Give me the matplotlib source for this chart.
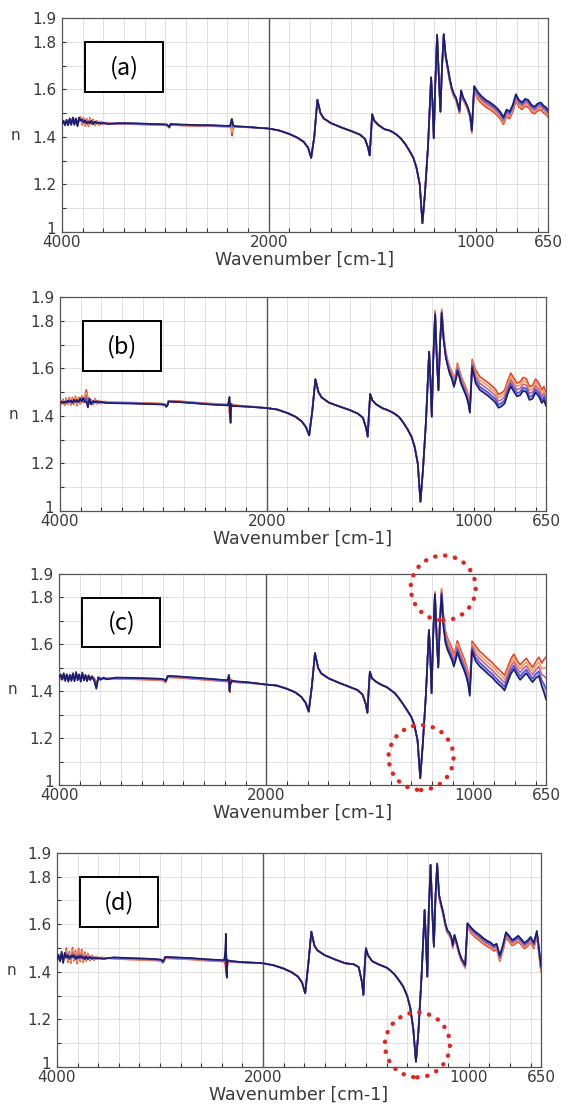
import numpy as np
import matplotlib
matplotlib.use("Agg")
import matplotlib.pyplot as plt
from matplotlib.patches import Rectangle, Circle
from matplotlib.transforms import ScaledTranslation
from matplotlib.ticker import FixedLocator, FixedFormatter

# ---------------------------------------------------------------------------
# Wavenumber grid [cm-1]: noisy OH region, mid-IR plateau, fingerprint region
# ---------------------------------------------------------------------------
wn_hi = [4000, 3985, 3970, 3955, 3940, 3925, 3910, 3895, 3880, 3865, 3850, 3835,
         3820, 3805, 3790, 3775, 3760, 3745, 3730, 3715, 3700, 3680, 3660, 3640,
         3620, 3600, 3570, 3540]
wn_mid = [3450, 3300, 3150, 3020, 2985, 2972, 2962, 2950, 2850, 2700, 2550, 2420,
          2375, 2365, 2360, 2355, 2350, 2345, 2335, 2300, 2200, 2100, 2000]
wn_lo = [1950, 1900, 1860, 1830, 1810, 1795, 1780, 1765, 1750, 1735, 1700, 1650,
         1600, 1560, 1535, 1520, 1512, 1506, 1500, 1490, 1470, 1440, 1420, 1400,
         1380, 1360, 1340, 1320, 1300, 1285, 1270, 1257, 1245, 1230, 1215, 1208,
         1202, 1195, 1186, 1178, 1170, 1162, 1154, 1145, 1135, 1125, 1115, 1105,
         1095, 1085, 1078, 1070, 1060, 1048, 1036, 1026, 1018, 1007, 990, 970,
         950, 930, 910, 895, 880, 865, 850, 835, 820, 805, 790, 775, 760, 745,
         730, 715, 700, 685, 670, 660, 650]

# ---------------------------------------------------------------------------
# Refractive index n (centre of each bundle of spectra) and the signed
# spread of the bundle around it, for panels (a)-(d)
# ---------------------------------------------------------------------------
n_hi_a = [1.458, 1.462, 1.456, 1.466, 1.458, 1.470, 1.460, 1.474, 1.462, 1.468,
          1.456, 1.472, 1.476, 1.462, 1.470, 1.458, 1.466, 1.455, 1.468, 1.460,
          1.463, 1.457, 1.462, 1.455, 1.460, 1.456, 1.458, 1.456]
n_mid_a = [1.456, 1.455, 1.453, 1.451, 1.450, 1.444, 1.440, 1.452, 1.450, 1.448,
           1.447, 1.445, 1.444, 1.450, 1.450, 1.440, 1.445, 1.442, 1.444, 1.443,
           1.441, 1.438, 1.435]
n_lo_a = [1.427, 1.412, 1.396, 1.378, 1.355, 1.312, 1.400, 1.556, 1.500, 1.478,
          1.458, 1.440, 1.424, 1.410, 1.392, 1.355, 1.322, 1.410, 1.495, 1.468,
          1.450, 1.432, 1.428, 1.420, 1.408, 1.392, 1.370, 1.342, 1.310, 1.268,
          1.200, 1.037, 1.160, 1.360, 1.650, 1.540, 1.394, 1.620, 1.829, 1.660,
          1.506, 1.700, 1.829, 1.740, 1.690, 1.640, 1.600, 1.575, 1.560, 1.530,
          1.505, 1.590, 1.560, 1.540, 1.515, 1.485, 1.422, 1.604, 1.575, 1.555,
          1.540, 1.530, 1.517, 1.505, 1.490, 1.468, 1.500, 1.492, 1.520, 1.565,
          1.540, 1.530, 1.545, 1.540, 1.520, 1.512, 1.525, 1.530, 1.515, 1.510,
          1.498]
sp_hi_a = [0.004, -0.006, 0.008, -0.006, 0.010, -0.008, 0.010, -0.008, 0.012,
           -0.010, 0.012, -0.010, 0.008, -0.012, 0.010, -0.012, 0.010, -0.010,
           0.012, -0.008, 0.010, -0.008, 0.006, -0.006, 0.005, -0.004, 0.003, 0.002]
sp_mid_a = [-0.002] * 13 + [-0.012, -0.025, -0.035, -0.018, -0.008, -0.002,
                            -0.001, -0.001, 0.0, 0.0]
sp_lo_a = [0.0] * 42 + [-0.004] + [-0.006] * 14 + [-0.010] + [-0.015] * 23

n_hi_b = [1.458, 1.455, 1.462, 1.452, 1.465, 1.456, 1.468, 1.455, 1.466, 1.458,
          1.470, 1.455, 1.468, 1.462, 1.472, 1.466, 1.470, 1.485, 1.455, 1.464,
          1.458, 1.455, 1.464, 1.456, 1.460, 1.456, 1.458, 1.456]
n_mid_b = [1.455, 1.454, 1.452, 1.450, 1.448, 1.440, 1.445, 1.462, 1.460, 1.455,
           1.450, 1.447, 1.446, 1.455, 1.445, 1.425, 1.410, 1.440, 1.445, 1.443,
           1.440, 1.437, 1.433]
n_lo_b = [1.427, 1.412, 1.396, 1.376, 1.352, 1.318, 1.420, 1.554, 1.500, 1.478,
          1.456, 1.440, 1.425, 1.410, 1.392, 1.350, 1.313, 1.410, 1.492, 1.466,
          1.448, 1.432, 1.426, 1.418, 1.408, 1.395, 1.372, 1.345, 1.312, 1.270,
          1.200, 1.039, 1.170, 1.380, 1.670, 1.540, 1.397, 1.640, 1.834, 1.650,
          1.509, 1.710, 1.840, 1.730, 1.660, 1.620, 1.590, 1.570, 1.537, 1.570,
          1.605, 1.580, 1.550, 1.525, 1.500, 1.470, 1.425, 1.621, 1.565, 1.537,
          1.525, 1.512, 1.497, 1.485, 1.462, 1.468, 1.480, 1.520, 1.552, 1.530,
          1.510, 1.515, 1.534, 1.528, 1.495, 1.500, 1.527, 1.510, 1.482, 1.495,
          1.470]
sp_hi_b = [0.004, -0.006, 0.008, -0.008, 0.010, -0.008, 0.010, -0.010, 0.012,
           -0.010, 0.012, -0.012, 0.010, -0.012, 0.012, -0.010, 0.012, 0.025,
           0.020, -0.010, 0.010, -0.008, 0.008, -0.006, 0.005, -0.004, 0.003, 0.002]
sp_mid_b = [0.002] * 13 + [-0.015, -0.035, 0.030, 0.040, -0.010, 0.004, 0.002,
                           0.001, 0.001, 0.0]
sp_lo_b = [0.0] * 37 + [0.003, 0.008, 0.004, 0.002, 0.004, 0.008, 0.010, 0.012,
                        0.012, 0.014, 0.015, 0.015, 0.015, 0.016, 0.016, 0.016,
                        0.016, 0.016, 0.016, 0.012, 0.016] + [0.028] * 23

n_hi_c = [1.470, 1.462, 1.458, 1.465, 1.455, 1.462, 1.452, 1.460, 1.455, 1.465,
          1.452, 1.470, 1.458, 1.462, 1.450, 1.468, 1.455, 1.462, 1.452, 1.460,
          1.455, 1.458, 1.450, 1.425, 1.455, 1.452, 1.455, 1.453]
n_mid_c = [1.455, 1.454, 1.452, 1.450, 1.447, 1.440, 1.450, 1.462, 1.460, 1.455,
           1.450, 1.445, 1.444, 1.450, 1.450, 1.430, 1.415, 1.440, 1.443, 1.440,
           1.437, 1.433, 1.428]
n_lo_c = [1.424, 1.410, 1.395, 1.375, 1.350, 1.313, 1.420, 1.562, 1.500, 1.476,
          1.455, 1.436, 1.419, 1.405, 1.385, 1.345, 1.308, 1.400, 1.483, 1.455,
          1.440, 1.425, 1.418, 1.405, 1.392, 1.370, 1.345, 1.318, 1.290, 1.255,
          1.190, 1.029, 1.170, 1.380, 1.661, 1.540, 1.391, 1.630, 1.818, 1.640,
          1.505, 1.700, 1.824, 1.700, 1.630, 1.600, 1.580, 1.560, 1.530, 1.560,
          1.590, 1.570, 1.545, 1.520, 1.490, 1.455, 1.405, 1.593, 1.560, 1.538,
          1.522, 1.505, 1.490, 1.475, 1.462, 1.450, 1.435, 1.470, 1.505, 1.526,
          1.500, 1.480, 1.495, 1.508, 1.488, 1.470, 1.490, 1.505, 1.470, 1.465,
          1.455]
sp_hi_c = [0.012, -0.010, 0.010, -0.012, 0.012, -0.010, 0.012, -0.010, 0.012,
           -0.012, 0.010, -0.012, 0.012, -0.010, 0.010, -0.012, 0.010, -0.008,
           0.010, -0.008, 0.008, -0.006, 0.006, 0.015, -0.005, 0.004, -0.003, 0.003]
sp_mid_c = [-0.003] * 13 + [-0.012, -0.020, 0.030, -0.020, 0.010, -0.003,
                            -0.002, -0.002, -0.001, 0.0]
sp_lo_c = ([0.0] * 38 + [0.005, 0.010, 0.005, 0.010, 0.012] + [0.025] * 14
           + [0.020] + [0.032] * 18 + [0.035, 0.040, 0.050, 0.070, 0.090])

n_hi_d = [1.458, 1.462, 1.455, 1.470, 1.452, 1.468, 1.480, 1.455, 1.470, 1.452,
          1.482, 1.458, 1.472, 1.450, 1.478, 1.455, 1.476, 1.452, 1.468, 1.455,
          1.465, 1.456, 1.462, 1.455, 1.460, 1.456, 1.458, 1.457]
n_mid_d = [1.458, 1.455, 1.453, 1.450, 1.448, 1.440, 1.445, 1.460, 1.458, 1.455,
           1.450, 1.447, 1.446, 1.460, 1.480, 1.430, 1.400, 1.440, 1.445, 1.443,
           1.440, 1.438, 1.436]
n_lo_d = [1.428, 1.414, 1.398, 1.380, 1.355, 1.310, 1.430, 1.569, 1.510, 1.490,
          1.470, 1.452, 1.436, 1.432, 1.420, 1.360, 1.303, 1.420, 1.499, 1.470,
          1.445, 1.432, 1.425, 1.418, 1.405, 1.388, 1.365, 1.340, 1.300, 1.250,
          1.160, 1.022, 1.150, 1.380, 1.660, 1.520, 1.380, 1.650, 1.850, 1.660,
          1.506, 1.720, 1.850, 1.720, 1.680, 1.646, 1.600, 1.570, 1.560, 1.540,
          1.506, 1.550, 1.520, 1.480, 1.450, 1.436, 1.422, 1.597, 1.575, 1.558,
          1.545, 1.530, 1.518, 1.512, 1.500, 1.506, 1.457, 1.500, 1.555, 1.540,
          1.522, 1.530, 1.540, 1.525, 1.510, 1.520, 1.535, 1.510, 1.560, 1.490,
          1.413]
sp_hi_d = [0.006, -0.010, 0.012, -0.015, 0.015, -0.012, 0.020, -0.015, 0.015,
           -0.015, 0.020, -0.012, 0.018, -0.015, 0.020, -0.012, 0.018, -0.012,
           0.015, -0.010, 0.012, -0.008, 0.008, -0.006, 0.005, -0.004, 0.003, 0.002]
sp_mid_d = [-0.003] * 13 + [-0.030, -0.080, 0.040, 0.025, -0.010, -0.003,
                            -0.002, -0.001, -0.001, 0.0]
sp_lo_d = [0.0] * 42 + [-0.006] * 15 + [-0.008] + [-0.012] * 23

panel_tags = ["(a)", "(b)", "(c)", "(d)"]
panel_n = [(n_hi_a, n_mid_a, n_lo_a), (n_hi_b, n_mid_b, n_lo_b),
           (n_hi_c, n_mid_c, n_lo_c), (n_hi_d, n_mid_d, n_lo_d)]
panel_sp = [(sp_hi_a, sp_mid_a, sp_lo_a), (sp_hi_b, sp_mid_b, sp_lo_b),
            (sp_hi_c, sp_mid_c, sp_lo_c), (sp_hi_d, sp_mid_d, sp_lo_d)]

# Individual spectra: colour and position within the bundle (+1 .. -1)
series_colors = ["#e8402a", "#f0a050", "#c8609a", "#a9a9f2", "#4656d6", "#1d1d6c"]
series_pos = [1.0, 0.5, 0.0, -0.75, -0.5, -1.0]

# Circled spectral features: (panel index, wavenumber, n)
circled = [(2, 1146, 1.840), (2, 1253, 1.117), (3, 1250, 1.093)]

x_labels = ["4000", "2000", "1000", "650"]
x_label_pos = [4000, 2000, 1000, 650]
y_labels = ["1", "1.2", "1.4", "1.6", "1.8", "1.9"]
y_label_pos = [1.0, 1.2, 1.4, 1.6, 1.8, 1.9]

# Axes rectangles [left, bottom, width, height] in figure fraction
axes_rects = [[0.1093, 0.7908, 0.8571, 0.1930],
              [0.1058, 0.5392, 0.8571, 0.1930],
              [0.1041, 0.2922, 0.8589, 0.1903],
              [0.1005, 0.0379, 0.8536, 0.1930]]


def _fwd(w):
    w = np.asarray(w, dtype=float)
    return np.where(w > 2000, 2000 + (w - 2000) / 2.0, w)


def _inv(u):
    u = np.asarray(u, dtype=float)
    return np.where(u > 2000, 2000 + (u - 2000) * 2.0, u)


TXT = "#3a3a3a"
wn = np.array(wn_hi + wn_mid + wn_lo, dtype=float)

fig = plt.figure(figsize=(5.67, 11.09), dpi=100)
axes = []
for i in range(4):
    ax = fig.add_axes(axes_rects[i])
    axes.append(ax)
    ax.set_xscale("function", functions=(_fwd, _inv))
    ax.set_xlim(4000, 650)
    ax.set_ylim(1.0, 1.9)

    hi, mid, lo = panel_n[i]
    s_hi, s_mid, s_lo = panel_sp[i]
    centre = np.array(hi + mid + lo)
    spread = np.array(s_hi + s_mid + s_lo)
    for col, pos in zip(series_colors, series_pos):
        ax.plot(wn, centre + pos * spread, color=col, lw=1.2, zorder=3,
                solid_joinstyle="round")

    # ticks, grid and the 2000 cm-1 divider
    x_minor = list(range(3800, 2000, -200)) + list(range(1900, 600, -100))
    ax.xaxis.set_major_locator(FixedLocator(x_label_pos))
    ax.xaxis.set_major_formatter(FixedFormatter(x_labels))
    ax.xaxis.set_minor_locator(FixedLocator([v for v in x_minor if v != 1000]))
    ax.yaxis.set_major_locator(FixedLocator(y_label_pos))
    ax.yaxis.set_major_formatter(FixedFormatter(y_labels))
    ax.yaxis.set_minor_locator(FixedLocator([1.1, 1.3, 1.5, 1.7]))
    ax.grid(True, which="both", color="#dcdcdc", lw=0.6, zorder=0)
    ax.axvline(2000, color="#555555", lw=1.0, zorder=2)

    ax.tick_params(which="both", direction="in", length=3, width=0.8,
                   color="#333333", top=False, right=False)
    ax.tick_params(which="major", labelsize=11, labelcolor=TXT)
    ax.tick_params(axis="x", which="major", pad=2)
    ax.tick_params(axis="y", which="major", pad=4)
    for sp in ax.spines.values():
        sp.set_color("#555555")
        sp.set_linewidth(0.9)

    ax.set_xlabel("Wavenumber [cm-1]", fontsize=12.5, color=TXT, labelpad=1)
    ax.text(-0.095, 0.45, "n", transform=ax.transAxes, fontsize=11,
            color=TXT, ha="center", va="center")

    # panel tag box
    ax.add_patch(Rectangle((0.048, 0.652), 0.16, 0.236, transform=ax.transAxes,
                           facecolor="white", edgecolor="black", lw=1.4, zorder=5))
    ax.text(0.128, 0.768, panel_tags[i], transform=ax.transAxes, fontsize=17,
            family=["Noto Sans CJK JP", "DejaVu Sans"], ha="center", va="center",
            color="black", zorder=6)

# lift the bottom "1" label a little so it clears the "4000" below it
fig.canvas.draw()
for ax in axes:
    lab = ax.yaxis.get_major_ticks()[0].label1
    lab.set_transform(lab.get_transform()
                      + ScaledTranslation(0, 3 / 72, fig.dpi_scale_trans))

# red dotted circles around the highlighted bands
for idx, w0, n0 in circled:
    ax = axes[idx]
    tr = fig.dpi_scale_trans + ScaledTranslation(w0, n0, ax.transData)
    circ = Circle((0, 0), 0.325, transform=tr, fill=False, edgecolor="#e32522",
                  lw=3.2, linestyle=(0, (0.05, 2.2)), capstyle="round",
                  clip_on=False, zorder=8)
    fig.add_artist(circ)

fig.savefig("out.png", dpi=100)
